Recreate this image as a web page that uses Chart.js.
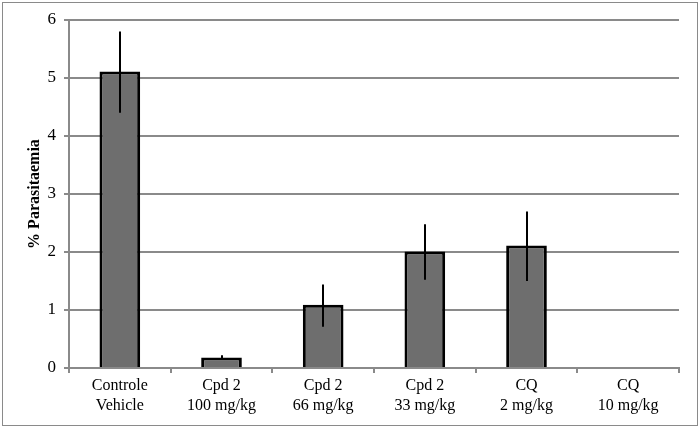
<!DOCTYPE html>
<html><head><meta charset="utf-8">
<script src="https://cdn.jsdelivr.net/npm/chart.js@4"></script>
<style>
html,body{margin:0;padding:0;background:#fff;}
#wrap{position:relative;width:700px;height:428px;}
#frame{position:absolute;left:2px;top:2px;width:694px;height:422px;border:1px solid #8a8a8a;}
canvas{position:absolute;left:0;top:0;}
</style></head>
<body>
<div id="wrap"><div id="frame"></div><canvas id="c" width="700" height="428"></canvas></div>
<script>
const categories = [["Controle","Vehicle"],["Cpd 2","100 mg/kg"],["Cpd 2","66 mg/kg"],["Cpd 2","33 mg/kg"],["CQ","2 mg/kg"],["CQ","10 mg/kg"]];
const values = [5.11, 0.18, 1.09, 2.01, 2.11, 0];
const errLow = [4.4, 0.14, 0.71, 1.52, 1.5, 0];
const errHigh = [5.8, 0.22, 1.44, 2.48, 2.7, 0];
const yTicks = [0,1,2,3,4,5,6];

const FONT = "'Liberation Serif', 'Times New Roman', 'DejaVu Serif', serif";

const errorBars = {
  id:'errorBars',
  afterDatasetsDraw(chart){
    const ctx = chart.ctx, x = chart.scales.x, y = chart.scales.y;
    ctx.save();
    ctx.strokeStyle = '#000';
    ctx.lineWidth = 2;
    values.forEach((v,i)=>{
      if (errHigh[i] === errLow[i]) return;
      const px = Math.round(x.getPixelForValue(i));
      ctx.beginPath();
      ctx.moveTo(px, y.getPixelForValue(errLow[i]));
      ctx.lineTo(px, y.getPixelForValue(errHigh[i]));
      ctx.stroke();
    });
    ctx.restore();
  }
};

Chart.defaults.font.family = FONT;

new Chart(document.getElementById('c'), {
  type:'bar',
  data:{labels:categories, datasets:[{data:values, backgroundColor:'#6e6e6e', borderColor:'#000', borderWidth:3, categoryPercentage:1, barPercentage:0.4}]},
  options:{
    responsive:false, animation:false,
    layout:{padding:{left:0,right:21,top:20,bottom:0}},
    plugins:{legend:{display:false}, tooltip:{enabled:false}},
    scales:{
      x:{
        grid:{drawOnChartArea:false, color:'#8a8a8a', lineWidth:2, tickLength:5, offset:true},
        border:{color:'#8a8a8a', width:2},
        ticks:{color:'#000', font:{family:FONT, size:16, lineHeight:1.25}, padding:3, maxRotation:0, autoSkip:false},
        afterFit(s){ s.height = 60; }
      },
      y:{
        min:0, max:6,
        afterBuildTicks(s){ s.ticks = yTicks.map(v=>({value:v})); },
        grid:{color:'#8a8a8a', lineWidth:2, tickLength:5},
        border:{color:'#8a8a8a', width:2},
        ticks:{color:'#000', font:{family:FONT, size:17}, padding:8},
        title:{display:true, text:'% Parasitaemia', color:'#000', font:{family:FONT, size:16, weight:'bold'}, padding:{top:25,bottom:0}},
        afterFit(s){ s.width = 69; }
      }
    }
  },
  plugins:[errorBars]
});
</script>
</body></html>
